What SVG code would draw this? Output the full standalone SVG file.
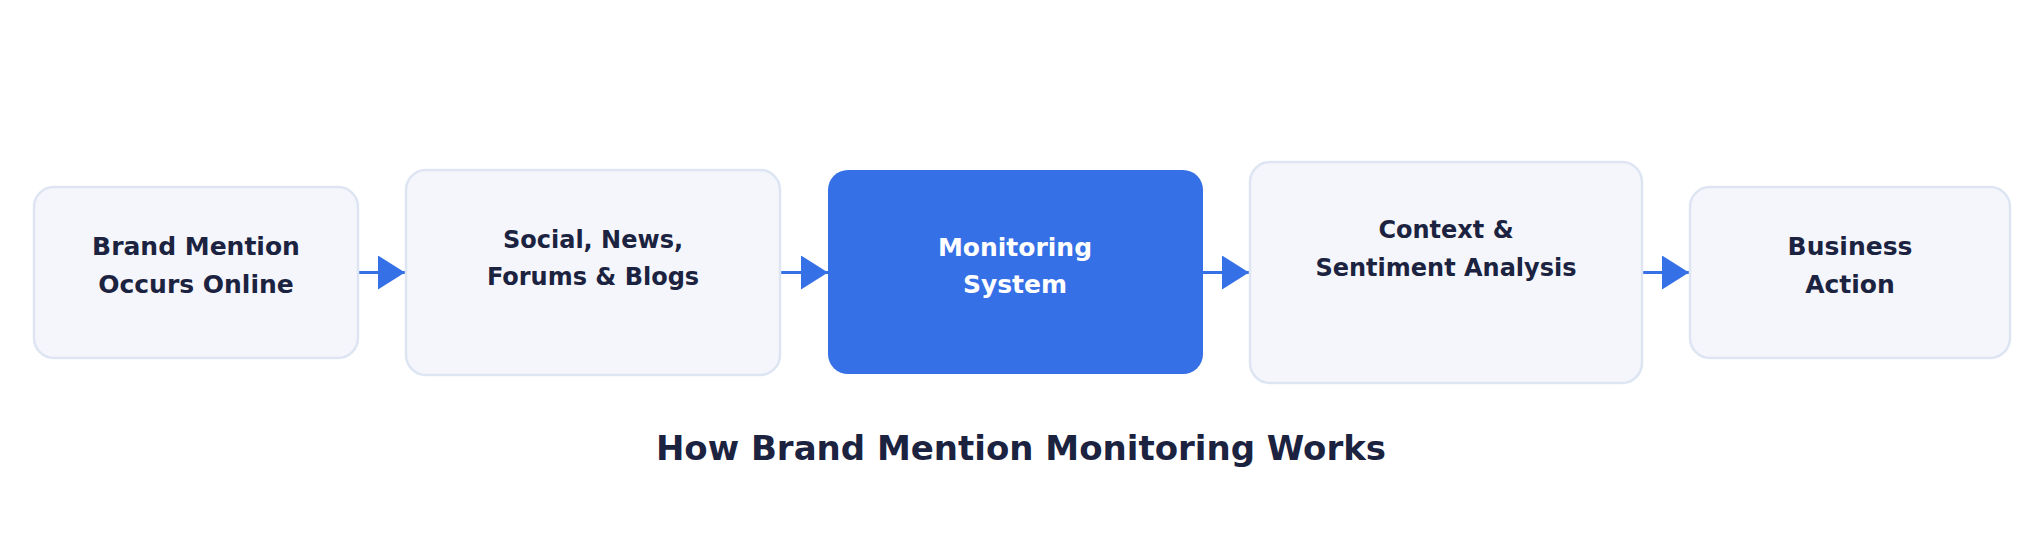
<svg xmlns="http://www.w3.org/2000/svg" width="2044" height="545" viewBox="0 0 2044 545">
<style>
.box{fill:#f4f6fb;stroke:#dde5f3;stroke-width:2.5}
.hl{fill:#3670e6}
.t{font-family:"DejaVu Sans",sans-serif;font-weight:bold;font-size:25px;fill:#1b2340;text-anchor:middle}
.s{font-size:24px}
.tw{fill:#ffffff}
.title{font-family:"DejaVu Sans",sans-serif;font-weight:bold;font-size:34px;fill:#1b2340;text-anchor:middle}
.conn{stroke:#3670e6;stroke-width:3;fill:none}
</style>
<defs>
<marker id="ah" markerUnits="userSpaceOnUse" markerWidth="28" markerHeight="36" refX="27" refY="17" orient="auto">
<path d="M0,0 L27,17 L0,34 Z" fill="#3670e6"/>
</marker>
</defs>
<rect width="2044" height="545" fill="#ffffff"/>
<g id="connectors">
<line class="conn" x1="358" y1="272.5" x2="405" y2="272.5" marker-end="url(#ah)"/>
<line class="conn" x1="780" y1="272.5" x2="828" y2="272.5" marker-end="url(#ah)"/>
<line class="conn" x1="1203" y1="272.5" x2="1249" y2="272.5" marker-end="url(#ah)"/>
<line class="conn" x1="1643" y1="272.5" x2="1689" y2="272.5" marker-end="url(#ah)"/>
</g>
<g id="node1">
<rect class="box" x="34" y="187" width="324" height="171" rx="20"/>
<text class="t" x="196" y="255">Brand Mention</text>
<text class="t" x="196" y="293">Occurs Online</text>
</g>
<g id="node2">
<rect class="box" x="406" y="170" width="374" height="205" rx="20"/>
<text class="t s" x="593" y="248">Social, News,</text>
<text class="t s" x="593" y="285">Forums &amp; Blogs</text>
</g>
<g id="node3">
<rect class="hl" x="828" y="170" width="375" height="204" rx="20"/>
<text class="t tw" x="1015" y="256">Monitoring</text>
<text class="t tw" x="1015" y="293">System</text>
</g>
<g id="node4">
<rect class="box" x="1250" y="162" width="392" height="221" rx="20"/>
<text class="t s" x="1446" y="238">Context &amp;</text>
<text class="t s" x="1446" y="276">Sentiment Analysis</text>
</g>
<g id="node5">
<rect class="box" x="1690" y="187" width="320" height="171" rx="20"/>
<text class="t" x="1850" y="255">Business</text>
<text class="t" x="1850" y="293">Action</text>
</g>
<g id="title">
<text class="title" x="1021" y="460">How Brand Mention Monitoring Works</text>
</g>
</svg>
